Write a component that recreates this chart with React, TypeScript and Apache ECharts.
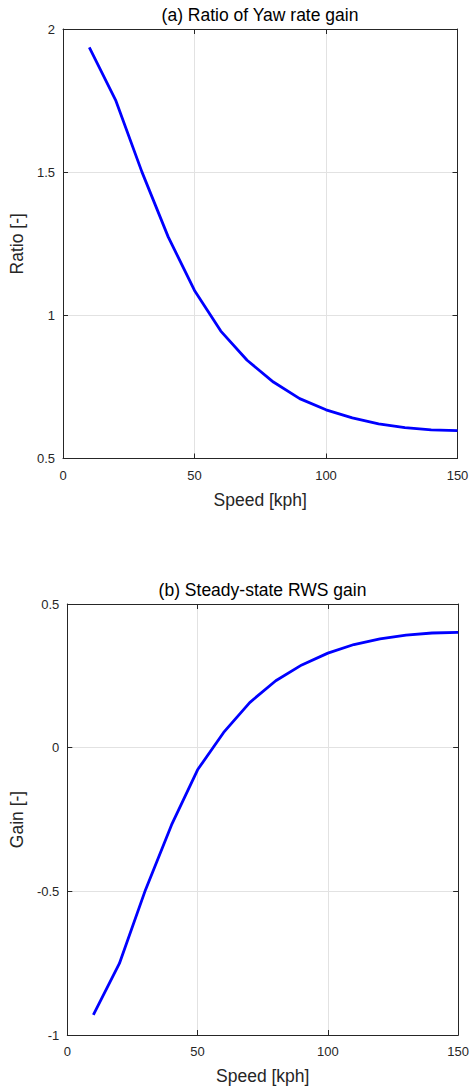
import React, { useEffect, useRef } from "react";
import * as echarts from "echarts";

const speeds = [10, 20, 30, 40, 50, 60, 70, 80, 90, 100, 110, 120, 130, 140, 150];
const yawRatio = [1.936, 1.752, 1.501, 1.274, 1.087, 0.945, 0.843, 0.767, 0.709, 0.670, 0.642, 0.621, 0.608, 0.600, 0.597];
const rwsGain = [-0.93, -0.751, -0.495, -0.269, -0.077, 0.053, 0.157, 0.233, 0.288, 0.329, 0.359, 0.379, 0.392, 0.399, 0.401];

const titles = ["(a) Ratio of Yaw rate gain", "(b) Steady-state RWS gain"];
const xName = "Speed [kph]";
const yNames = ["Ratio [-]", "Gain [-]"];

const FONT = "'Liberation Sans', Arial, Helvetica, sans-serif";
const TXT = "#262626";
const GRIDC = "#e2e2e2";

export default function App() {
  const ref = useRef<HTMLDivElement>(null);
  useEffect(() => {
    if (!ref.current) return;
    const chart = echarts.init(ref.current, null, { renderer: "svg" });
    const grids = [
      { left: 62.5, top: 29, width: 395, height: 429.5 },
      { left: 65.5, top: 604, width: 394, height: 431 },
    ];
    const yRanges = [
      { min: 0.5, max: 2 },
      { min: -1, max: 0.5 },
    ];
    const xAxes: any[] = [];
    const yAxes: any[] = [];
    grids.forEach((g, i) => {
      xAxes.push({
        type: "value",
        gridIndex: i,
        position: "bottom",
        min: 0,
        max: 150,
        interval: 50,
        name: xName,
        nameLocation: "middle",
        nameGap: 32,
        nameTextStyle: { fontFamily: FONT, fontSize: 17.5, color: TXT },
        axisLine: { show: true, onZero: false, lineStyle: { color: TXT, width: 1 } },
        axisTick: { show: true, inside: true, length: 5, lineStyle: { color: TXT } },
        axisLabel: { margin: 10, fontFamily: FONT, fontSize: 13, color: TXT },
        splitLine: { show: true, lineStyle: { color: GRIDC, width: 1 } },
      });
      xAxes.push({
        type: "value",
        gridIndex: i,
        position: "top",
        min: 0,
        max: 150,
        interval: 50,
        axisLine: { show: true, onZero: false, lineStyle: { color: TXT, width: 1 } },
        axisTick: { show: true, inside: true, length: 5, lineStyle: { color: TXT } },
        axisLabel: { show: false },
        splitLine: { show: false },
      });
      yAxes.push({
        type: "value",
        gridIndex: i,
        position: "left",
        min: yRanges[i].min,
        max: yRanges[i].max,
        interval: 0.5,
        name: yNames[i],
        nameLocation: "middle",
        nameGap: 37,
        nameRotate: 90,
        nameTextStyle: { fontFamily: FONT, fontSize: 17.5, color: TXT },
        axisLine: { show: true, onZero: false, lineStyle: { color: TXT, width: 1 } },
        axisTick: { show: true, inside: true, length: 5, lineStyle: { color: TXT } },
        axisLabel: { margin: 8, fontFamily: FONT, fontSize: 13, color: TXT },
        splitLine: { show: true, lineStyle: { color: GRIDC, width: 1 } },
      });
      yAxes.push({
        type: "value",
        gridIndex: i,
        position: "right",
        min: yRanges[i].min,
        max: yRanges[i].max,
        interval: 0.5,
        axisLine: { show: true, onZero: false, lineStyle: { color: TXT, width: 1 } },
        axisTick: { show: true, inside: true, length: 5, lineStyle: { color: TXT } },
        axisLabel: { show: false },
        splitLine: { show: false },
      });
    });

    const option: any = {
      animation: false,
      backgroundColor: "#ffffff",
      grid: grids.map((g) => ({ ...g, containLabel: false })),
      xAxis: xAxes,
      yAxis: yAxes,
      graphic: titles.map((t, i) => ({
        type: "text",
        x: grids[i].left + grids[i].width / 2,
        y: grids[i].top - 14,
        style: {
          text: t,
          fontFamily: FONT,
          fontSize: 17.5,
          fill: "#000000",
          textAlign: "center",
          textVerticalAlign: "middle",
        },
      })),
      series: [
        {
          type: "line",
          xAxisIndex: 0,
          yAxisIndex: 0,
          showSymbol: false,
          symbol: "none",
          data: speeds.map((s, k) => [s, yawRatio[k]]),
          lineStyle: { color: "#0000ff", width: 2.8 },
          itemStyle: { color: "#0000ff" },
        },
        {
          type: "line",
          xAxisIndex: 2,
          yAxisIndex: 2,
          showSymbol: false,
          symbol: "none",
          data: speeds.map((s, k) => [s, rwsGain[k]]),
          lineStyle: { color: "#0000ff", width: 2.8 },
          itemStyle: { color: "#0000ff" },
        },
      ],
    };
    chart.setOption(option);
    return () => chart.dispose();
  }, []);
  return (
    <div
      ref={ref}
      style={{ position: "fixed", left: 0, top: 0, width: 472, height: 1090, background: "#fff" }}
    />
  );
}
